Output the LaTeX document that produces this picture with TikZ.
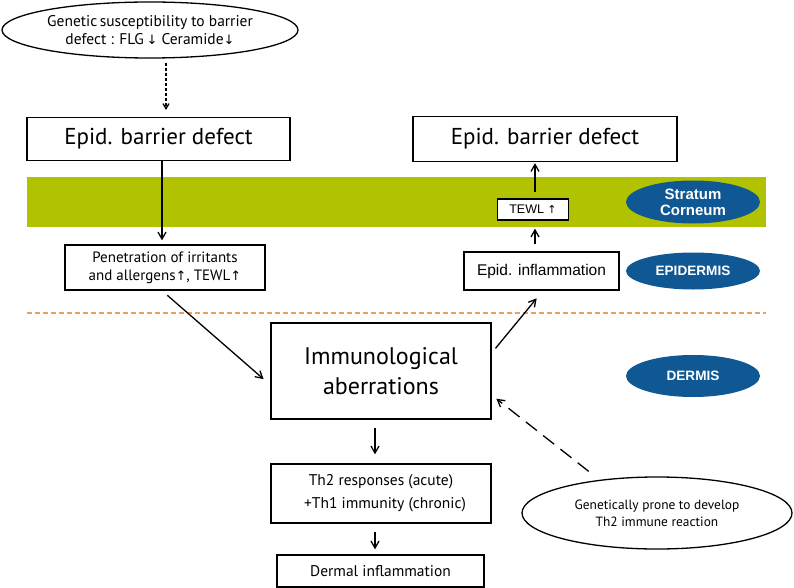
\documentclass[tikz,border=0pt]{standalone}
\usepackage{fontspec}
\setmainfont{PT Sans}
\newfontfamily\arial{Liberation Sans}
\newfontfamily\arr{DejaVu Sans}
\usetikzlibrary{arrows.meta,shapes.geometric,calc}
\definecolor{band}{RGB}{176,194,0}
\definecolor{layerblue}{RGB}{16,88,148}
\definecolor{orangedash}{RGB}{240,160,90}
\tikzset{
  bx/.style={draw=black, fill=white, line width=1.3pt, rectangle, inner sep=0pt, align=center, text=black},
  ell/.style={draw=black, line width=1.3pt, ellipse, inner sep=0pt, align=center},
  layer/.style={fill=layerblue, ellipse, inner sep=0pt, align=center, text=white, font=\arial\bfseries},
  arw/.style={-{Straight Barb[length=7pt,width=8pt]}, line width=1.3pt},
}
\begin{document}
\begin{tikzpicture}[x=1pt,y=-1pt]
\useasboundingbox (0,0) rectangle (794,588);
% layers
\fill[band] (27,177) rectangle (766,227);
\draw[orangedash, line width=1.2pt, dash pattern=on 5pt off 3pt] (27,313) -- (766,313);
% nodes
\node[ell, minimum width=296pt, minimum height=56pt, font=\fontsize{15.5}{18}\selectfont] (topell) at (150,30)
  {Genetic\,susceptibility to barrier\\defect : FLG\,{\arr\fontsize{13}{14}\selectfont↓} Ceramide{\arr\fontsize{13}{14}\selectfont↓}};
\node[bx, minimum width=263pt, minimum height=43pt, font=\fontsize{23}{26}\selectfont] (lbox) at (158.5,139) {Epid. barrier defect};
\node[bx, minimum width=264pt, minimum height=45pt, font=\fontsize{23}{26}\selectfont] (rbox) at (545,139) {Epid. barrier defect};
\node[bx, minimum width=200pt, minimum height=45pt, font=\fontsize{15}{18}\selectfont] (pen) at (165,267.5)
  {Penetration of irritants\\and allergens{\arr\fontsize{13}{14}\selectfont↑}, TEWL{\arr\fontsize{13}{14}\selectfont↑}};
\node[bx, minimum width=71pt, minimum height=21pt, font=\arial\fontsize{12.5}{14}\selectfont] (tewl) at (533,209.5) {TEWL {\arr\fontsize{11}{12}\selectfont↑}};
\node[bx, minimum width=155pt, minimum height=38pt, font=\arial\fontsize{15.5}{18}\selectfont] (epinf) at (541.5,271) {Epid. inflammation};
\node[bx, minimum width=220pt, minimum height=96pt, font=\fontsize{24}{30}\selectfont] (immuno) at (381,371) {Immunological\\aberrations};
\node[bx, minimum width=220pt, minimum height=59pt, font=\fontsize{15.5}{23}\selectfont] (th2) at (381,493.5) {Th2 responses (acute)\\\hspace*{8pt}+Th1 immunity (chronic)};
\node[bx, minimum width=207pt, minimum height=32pt, font=\fontsize{15.5}{17}\selectfont] (dermal) at (380.5,571) {Dermal inflammation};
\node[ell, minimum width=270pt, minimum height=72pt, font=\fontsize{13.4}{17}\selectfont] (gen) at (657,513) {Genetically prone to develop\\Th2 immune reaction};
\node[layer, minimum width=134pt, minimum height=43pt, font=\arial\bfseries\fontsize{15}{16}\selectfont] (sc) at (693,202) {Stratum\\Corneum};
\node[layer, minimum width=134pt, minimum height=37pt, font=\arial\bfseries\fontsize{13.6}{15}\selectfont] (epi) at (693,271) {EPIDERMIS};
\node[layer, minimum width=134pt, minimum height=42pt, font=\arial\bfseries\fontsize{13.6}{15}\selectfont] (derm) at (693,376) {DERMIS};
% helper coordinates
\path (topell.south -| 166,0) coordinate (d0)
      (lbox.north -| 166,0) coordinate (d1)
      (lbox.south -| 162,0) coordinate (a0)
      (pen.north -| 162,0) coordinate (a1)
      (pen.south -| 162,0) coordinate (p0)
      (immuno.west |- 0,385) coordinate (p1)
      (immuno.east |- 0,353) coordinate (i0)
      (epinf.south -| 543,0) coordinate (i1)
      (gen.north -| 595,0) coordinate (g0)
      (immuno.east |- 0,395) coordinate (g1);
% connectors
\draw[-{Straight Barb[length=5pt,width=6pt]}, line width=1.3pt, dash pattern=on 3pt off 2pt, shorten <=4pt, shorten >=7pt] (d0) -- (d1);
\draw[arw, shorten >=4pt] (a0) -- (a1);
\draw[arw, shorten <=7pt, shorten >=9pt] (p0) -- (p1);
\draw[arw, shorten <=6pt, shorten >=10pt] (i0) -- (i1);
\draw[arw, dash pattern=on 14pt off 8pt, shorten <=8pt, shorten >=6pt] (g0) -- (g1);
\draw[arw, shorten <=7pt, shorten >=8pt] (epinf.north -| 535,0) -- (tewl.south -| 535,0);
\draw[arw, shorten <=6pt, shorten >=1pt] (tewl.north -| 535,0) -- (rbox.south -| 535,0);
\draw[arw, shorten <=8pt, shorten >=9pt] (immuno.south -| 375,0) -- (th2.north -| 375,0);
\draw[arw, shorten <=8pt, shorten >=5pt] (th2.south -| 375,0) -- (dermal.north -| 375,0);
\end{tikzpicture}
\end{document}
